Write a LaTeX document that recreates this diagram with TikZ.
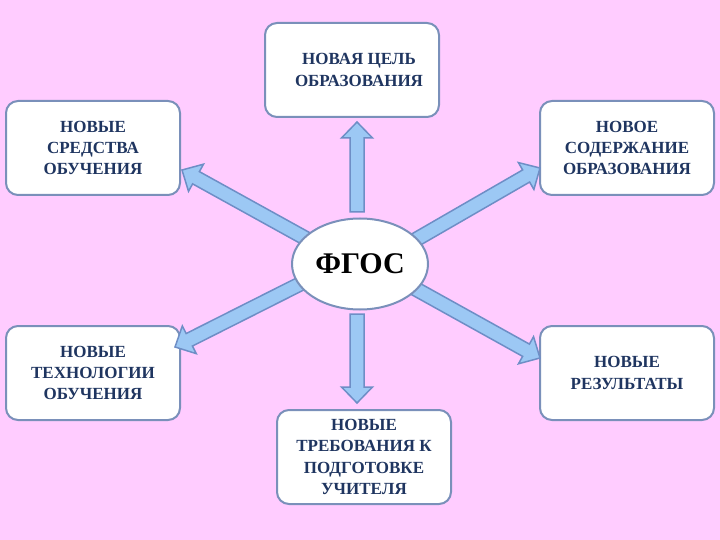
\documentclass[tikz,border=0pt]{standalone}
\usepackage{fontspec}
\setmainfont{Liberation Serif}
\usepackage{xcolor}
\usetikzlibrary{calc,shapes.geometric}

\definecolor{bgpink}{HTML}{FFCCFF}
\definecolor{boxline}{HTML}{7A90BA}
\definecolor{textnavy}{HTML}{1F3560}
\definecolor{arrowfill}{HTML}{9CC8F4}
\definecolor{arrowline}{HTML}{6E8EC6}

% fat arrow from #1 to #2
\newcommand{\fatarrow}[2]{%
  \path let \p1=($(#2)-(#1)$) in
    \pgfextra{\pgfmathsetmacro{\arrang}{atan2(\y1,\x1)}\xdef\arrang{\arrang}%
      \pgfmathsetmacro{\arrlen}{veclen(\x1,\y1)}\xdef\arrlen{\arrlen}};
  \draw[fat, shift={(#1)}, rotate=\arrang]
    (0pt,-7pt) -- ({\arrlen pt-16pt},-7pt) -- ({\arrlen pt-16pt},-15.5pt)
    -- (\arrlen pt,0pt) -- ({\arrlen pt-16pt},15.5pt) -- ({\arrlen pt-16pt},7pt)
    -- (0pt,7pt) -- cycle;}

\begin{document}
\begin{tikzpicture}[x=1pt,y=-1pt]
				\tikzstyle{block}=[draw=boxline, line width=2pt, fill=white, rounded corners=12pt, minimum width=174pt, minimum height=94pt, inner sep=2pt, align=center, text=textnavy, font=\fontsize{17}{21.3}\selectfont\bfseries]
				\tikzstyle{hub}=[ellipse, draw=boxline, line width=2pt, fill=white, minimum width=136pt, minimum height=91pt, font=\fontsize{30}{34}\selectfont\bfseries]
				\tikzstyle{fat}=[draw=arrowline, line width=1.5pt, fill=arrowfill, line join=miter]
				
				% background
				\fill[bgpink] (0,0) rectangle (720,540);
				
				% boxes
				\node[block](goal)    at (352,70)  {\hspace*{14pt}НОВАЯ ЦЕЛЬ\\\hspace*{14pt}ОБРАЗОВАНИЯ};
				\node[block](means)   at (93,148)  {НОВЫЕ\\СРЕДСТВА\\ОБУЧЕНИЯ};
				\node[block](content) at (627,148) {НОВОЕ\\СОДЕРЖАНИЕ\\ОБРАЗОВАНИЯ};
				\node[block](tech)    at (93,373)  {НОВЫЕ\\ТЕХНОЛОГИИ\\ОБУЧЕНИЯ};
				\node[block](results) at (627,373) {НОВЫЕ\\РЕЗУЛЬТАТЫ};
				\node[block](teacher) at (364,457) {НОВЫЕ\\ТРЕБОВАНИЯ К\\ПОДГОТОВКЕ\\УЧИТЕЛЯ};
				
				% arrow ends
				\coordinate (upS) at (357,212);
				\coordinate (upE) at (357,122);
				\coordinate (dnS) at (357,314);
				\coordinate (dnE) at (357,403);
				\coordinate (ulS) at (314,243);
				\coordinate (ulE) at (182,170);
				\coordinate (urS) at (410,243);
				\coordinate (urE) at (540,168);
				\coordinate (llS) at (308,280);
				\coordinate (llE) at (175,347);
				\coordinate (lrS) at (405,283);
				\coordinate (lrE) at (540,358);
				
				% arrows
				\fatarrow{upS}{upE}
				\fatarrow{dnS}{dnE}
				\fatarrow{ulS}{ulE}
				\fatarrow{urS}{urE}
				\fatarrow{llS}{llE}
				\fatarrow{lrS}{lrE}
				
				% centre
				\node[hub](fgos) at (360,264) {ФГОС};
\end{tikzpicture}
\end{document}
